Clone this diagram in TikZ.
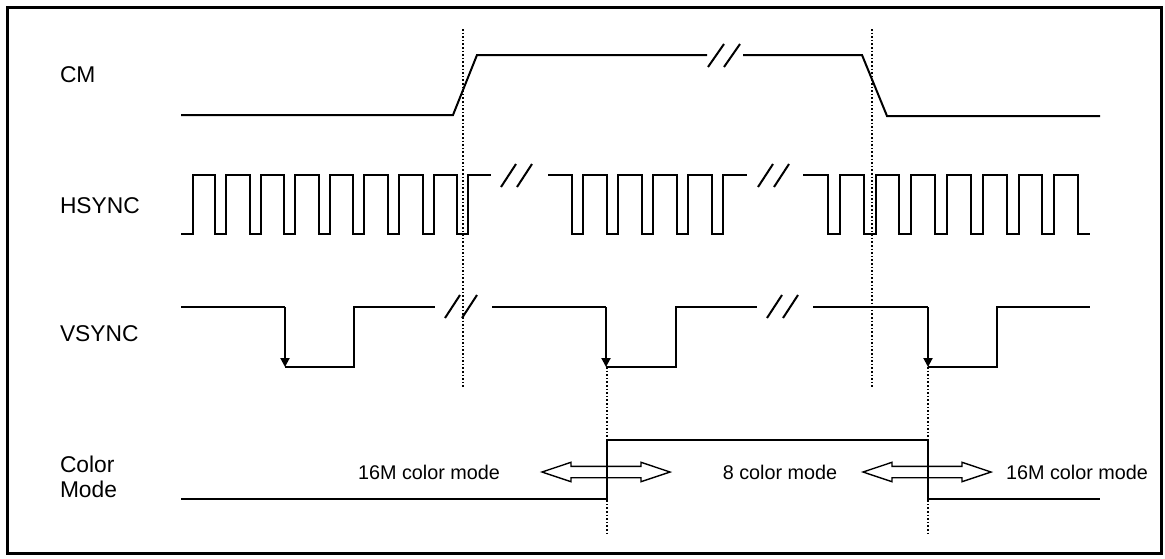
\documentclass[tikz,border=0pt]{standalone}
\usepackage{fontspec}
\setmainfont{Liberation Sans}
\usetikzlibrary{arrows.meta,shapes.arrows}

\begin{document}
\begin{tikzpicture}[x=0.5pt, y=-0.5pt, line width=1pt,
    nom/.style={anchor=west, inner sep=0pt, align=left, font=\fontsize{11.4}{12.5}\selectfont},
    mode/.style={inner sep=0pt, font=\fontsize{9.9}{12}\selectfont},
    repere/.style={line width=0.8pt, densely dotted},
    front/.style={-{Triangle[length=4.5pt, width=4.5pt]}},
    fleche/.style={double arrow, draw, line width=0.7pt, minimum height=64pt, inner sep=2.5pt,
        double arrow head extend=2pt, double arrow tip angle=37}]
        \useasboundingbox (0,0) rectangle (1165,558);
        \draw[line width=1.5pt] (7,7) rectangle (1161,553);

        % Les noms des signaux
        \node (cm) [nom] at (59,75) {CM};
        \node (hsync) [nom] at (59,206) {HSYNC};
        \node (vsync) [nom] at (59,334) {VSYNC};
        \node (color) [nom] at (59,477) {Color\\Mode};

        % Les reperes
        \draw[repere] (463,29) -- (463,388);
        \draw[repere] (872,29) -- (872,388);
        \draw[repere] (607,367) -- (607,533);
        \draw[repere] (928,367) -- (928,533);

        % CM
        \draw (181,115) -- (453,115) -- (477,55) -- (707,55);
        \draw (708,67) -- (724,44) (724,67) -- (740,44);
        \draw (743,55) -- (862,55) -- (887,116) -- (1100,116);

        % HSYNC
        \draw (181,234) -- (193,234) -- (193,175)
            \foreach \k in {0,...,7} {-- ({215+34.6*\k},175) -- ({215+34.6*\k},234)
                -- ({226+34.6*\k},234) -- ({226+34.6*\k},175)} -- (491,175);
        \draw (501,187) -- (516,164) (517,187) -- (532,164);
        \draw (548,175)
            \foreach \k in {0,...,4} {-- ({572+35*\k},175) -- ({572+35*\k},234)
                -- ({582.5+35*\k},234) -- ({582.5+35*\k},175)} -- (747,175);
        \draw (758,187) -- (773,164) (774,187) -- (789,164);
        \draw (803,175)
            \foreach \k in {0,...,6} {-- ({828+35.7*\k},175) -- ({828+35.7*\k},234)
                -- ({840+35.7*\k},234) -- ({840+35.7*\k},175)} -- (1078,175) -- (1078,234) -- (1090,234);

        % VSYNC
        \draw (181,307) -- (285,307);
        \draw[front] (285,307) -- (285,367);
        \draw (285,367) -- (354,367) -- (354,307) -- (435,307);
        \draw (445,318) -- (460,295) (462,318) -- (477,295);
        \draw (492,307) -- (606,307);
        \draw[front] (606,307) -- (606,367);
        \draw (606,367) -- (676,367) -- (676,307) -- (757,307);
        \draw (767,318) -- (782,295) (783,318) -- (798,295);
        \draw (813,307) -- (928,307);
        \draw[front] (928,307) -- (928,367);
        \draw (928,367) -- (997,367) -- (997,307) -- (1090,307);

        % Color Mode
        \draw (181,499) -- (607,499) -- (607,440) -- (928,440) -- (928,499) -- (1100,499);
        \node (m16a) [mode] at (429,472) {16M color mode};
        \node (m8) [mode] at (780,472) {8 color mode};
        \node (m16b) [mode] at (1077,472) {16M color mode};
        \node (fa) [fleche] at (606,472) {};
        \node (fb) [fleche] at (927,472) {};
    \end{tikzpicture}
\end{document}
